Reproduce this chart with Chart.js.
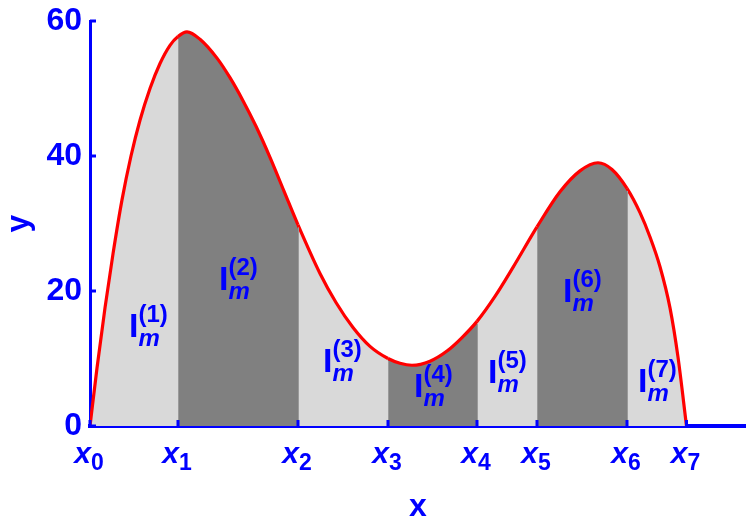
<!DOCTYPE html>
<html>
<head>
<meta charset="utf-8">
<script src="https://cdn.jsdelivr.net/npm/chart.js@4"></script>
<style>
  html, body { margin: 0; padding: 0; background: #fff; }
  #wrap { width: 746px; height: 518px; }
</style>
</head>
<body>
<div id="wrap"><canvas id="chart"></canvas></div>
<script>
// partition points x0..x7
const xBounds = [0, 0.88, 2.08, 2.98, 3.87, 4.47, 5.37, 5.965];

// sampled curve y(x)
const curveX = [0, 0.07, 0.15, 0.23, 0.32, 0.41, 0.50, 0.60, 0.70, 0.80,
  0.88, 0.97, 1.10, 1.27, 1.40, 1.53, 1.66, 1.80, 1.94, 2.08,
  2.30, 2.46, 2.63, 2.80, 2.98, 3.10, 3.22, 3.40, 3.57, 3.72,
  3.87, 4.05, 4.23, 4.47, 4.70, 4.90, 5.08, 5.22, 5.37, 5.50,
  5.60, 5.70, 5.80, 5.88, 5.965];
const curveY = [0, 8.6, 17.5, 25.5, 33.5, 40.0, 45.3, 50.0, 53.7, 56.4,
  57.7, 58.4, 57.3, 54.5, 51.6, 48.2, 44.4, 39.8, 34.8, 29.8,
  22.6, 18.3, 14.6, 11.8, 10.0, 9.3, 9.0, 9.6, 11.1, 13.1,
  15.5, 19.2, 23.5, 29.5, 34.7, 37.8, 39.0, 38.0, 35.2, 31.6,
  28.0, 23.6, 17.5, 10.2, 0];

const yTicks = [0, 20, 40, 60];
const stripNames = ['1', '2', '3', '4', '5', '6', '7'];
// where each I_m^(k) label sits (data units)
const stripLabelAt = [[0.39, 13.2], [1.29, 20.1], [2.33, 8.0], [3.24, 4.3],
  [3.98, 6.4], [4.73, 18.4], [5.48, 5.0]];

const BLUE = '#0000ff';
const LIGHT = '#d9d9d9';
const DARK = '#808080';
const FONT = '"Liberation Sans", Arial, sans-serif';

function stripIndex(xv) {
  let k = 0;
  for (let i = 1; i < xBounds.length; i++) if (xv >= xBounds[i]) k = i;
  return k;
}

const decorations = {
  id: 'decorations',
  afterDatasetsDraw(chart) {
    const { ctx, scales: { x, y } } = chart;
    const meta = chart.getDatasetMeta(0);
    const y0 = y.getPixelForValue(0);
    ctx.save();
    // faint edges between strips
    ctx.strokeStyle = '#9a9a9a';
    ctx.lineWidth = 1;
    xBounds.slice(1, -1).forEach(b => {
      const pt = meta.data[curveX.indexOf(b)];
      const px = Math.round(pt.x) + 0.5;
      ctx.beginPath();
      ctx.moveTo(px, y0);
      ctx.lineTo(px, pt.y + 2.5);
      ctx.stroke();
    });

    // I_m^(k) labels
    ctx.fillStyle = BLUE;
    ctx.textBaseline = 'alphabetic';
    ctx.textAlign = 'left';
    stripLabelAt.forEach((p, k) => {
      const lx = x.getPixelForValue(p[0]);
      const ly = y.getPixelForValue(p[1]);
      ctx.font = 'bold 34px ' + FONT;
      ctx.fillText('I', lx, ly);
      const w = ctx.measureText('I').width;
      ctx.font = 'bold 24px ' + FONT;
      ctx.fillText('(' + stripNames[k] + ')', lx + w, ly - 15);
      ctx.font = 'italic bold 24px ' + FONT;
      ctx.fillText('m', lx + w, ly + 9);
    });
    ctx.restore();
  },
  afterDraw(chart) {
    const { ctx, scales: { x, y } } = chart;
    const x0 = x.getPixelForValue(0);
    const y0 = y.getPixelForValue(0);
    ctx.save();
    ctx.strokeStyle = BLUE;
    ctx.lineWidth = 3;
    // inward tick marks
    xBounds.forEach(b => {
      const px = x.getPixelForValue(b);
      ctx.beginPath();
      ctx.moveTo(px, y0);
      ctx.lineTo(px, y0 - 6);
      ctx.stroke();
    });
    yTicks.forEach(v => {
      const py = y.getPixelForValue(v);
      ctx.beginPath();
      ctx.moveTo(x0, py);
      ctx.lineTo(x0 + 6, py);
      ctx.stroke();
    });

    // x_k tick labels
    ctx.fillStyle = BLUE;
    ctx.textBaseline = 'alphabetic';
    ctx.textAlign = 'left';
    xBounds.forEach((b, k) => {
      const px = x.getPixelForValue(b);
      ctx.font = 'italic bold 30px ' + FONT;
      const wx = ctx.measureText('x').width;
      ctx.font = 'bold 23px ' + FONT;
      const ws = ctx.measureText(String(k)).width;
      const left = px - (wx + ws) / 2 - 1;
      ctx.font = 'italic bold 30px ' + FONT;
      ctx.fillText('x', left, y0 + 37);
      ctx.font = 'bold 23px ' + FONT;
      ctx.fillText(String(k), left + wx, y0 + 44);
    });
    ctx.restore();
  }
};

new Chart(document.getElementById('chart'), {
  type: 'line',
  data: {
    datasets: [{
      data: curveX.map((v, i) => ({ x: v, y: curveY[i] })),
      borderColor: '#ff0000',
      borderWidth: 3.2,
      backgroundColor: LIGHT,
      fill: 'origin',
      pointRadius: 0,
      cubicInterpolationMode: 'monotone',
      segment: {
        backgroundColor: c => stripIndex((c.p0.parsed.x + c.p1.parsed.x) / 2) % 2 ? DARK : LIGHT
      }
    }]
  },
  options: {
    responsive: true,
    maintainAspectRatio: false,
    animation: false,
    layout: { padding: { top: 21, right: 0, left: 0, bottom: 0 } },
    plugins: { legend: { display: false }, tooltip: { enabled: false } },
    scales: {
      x: {
        type: 'linear',
        min: 0,
        max: 6.56,
        z: 1,
        grid: { display: false, drawTicks: false },
        border: { display: true, color: BLUE, width: 4 },
        ticks: { display: false },
        title: {
          display: true, text: 'x', color: BLUE,
          font: { family: FONT, size: 32, weight: 'bold' },
          padding: { top: 0, bottom: -8 }
        },
        afterFit(s) { s.height = 92; }
      },
      y: {
        min: 0,
        max: 60,
        z: 1,
        grid: { display: false, drawTicks: false },
        border: { display: true, color: BLUE, width: 3 },
        afterBuildTicks(s) { s.ticks = yTicks.map(v => ({ value: v })); },
        ticks: {
          color: BLUE,
          padding: 8,
          font: { family: FONT, size: 32, weight: 'bold' }
        },
        title: {
          display: true, text: 'y', color: BLUE,
          font: { family: FONT, size: 32, weight: 'bold' },
          padding: { top: 0, bottom: 0 }
        },
        afterFit(s) {
          s.width = 90;
          s.paddingTop = 0;
          s.paddingBottom = 0;
        }
      }
    }
  },
  plugins: [decorations]
});
</script>
</body>
</html>
